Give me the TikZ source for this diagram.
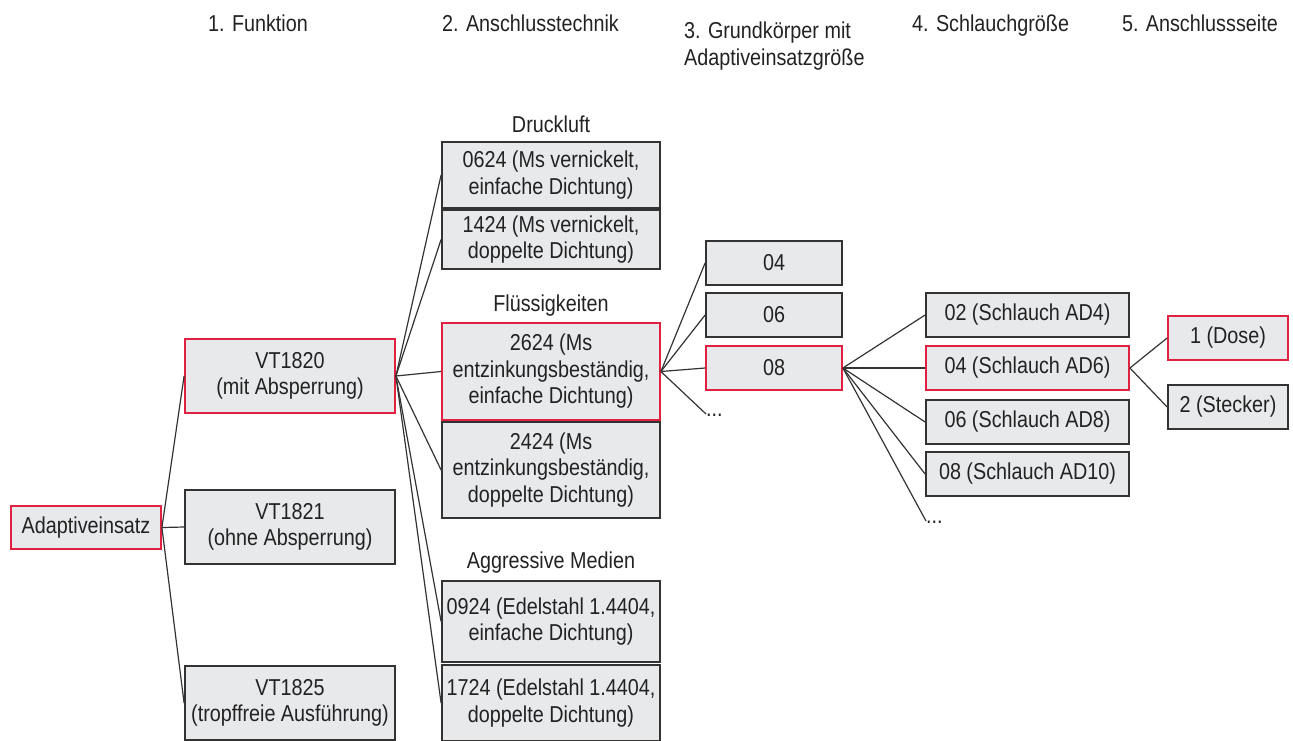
\documentclass[tikz,border=0pt]{standalone}
\usepackage{fontspec}
\setmainfont{Liberation Sans}[FakeStretch=0.86]
\definecolor{boxfill}{HTML}{E8E9EB}
\definecolor{boxline}{HTML}{333333}
\definecolor{hired}{HTML}{E0213F}
\definecolor{txt}{HTML}{222222}
\begin{document}
\begin{tikzpicture}[x=1pt,y=-1pt,
  every node/.style={font=\fontsize{23}{26.5}\selectfont, text=txt, align=center, inner sep=0pt},
  opt/.style={draw=boxline, fill=boxfill, line width=1.8pt, minimum width=#1},
  sel/.style={opt=#1, draw=hired},
  conn/.style={draw=boxline, line width=1.2pt},
  lbl/.style={}]
\useasboundingbox (0,0) rectangle (1293,740);
% headers
\node[lbl, anchor=base west] (h1) at (208,31) {1. Funktion};
\node[lbl, anchor=base west] (h2) at (442,31) {2. Anschlusstechnik};
\node[lbl, anchor=north west, align=left] (h3) at (684,22) {3. Grundkörper mit\\Adaptiveinsatzgröße};
\node[lbl, anchor=base west] (h4) at (912,31) {4. Schlauchgröße};
\node[lbl, anchor=base east] (h5) at (1278,31) {5. Anschlussseite};
% level 0
\node[sel=150, minimum height=43] (adapt) at (86,527.5) {Adaptiveinsatz};
% level 1
\node[sel=210, minimum height=74] (vt1820) at (290,376) {VT1820\\(mit Absperrung)};
\node[opt=210, minimum height=74] (vt1821) at (290,527) {VT1821\\(ohne Absperrung)};
\node[opt=210, minimum height=74] (vt1825) at (290,703) {VT1825\\(tropffreie Ausführung)};
% level 2
\node[lbl] (ldruck) at (551,124) {Druckluft};
\node[opt=218, minimum height=66] (d0624) at (551,175) {0624 (Ms vernickelt,\\einfache Dichtung)};
\node[opt=218, minimum height=59] (d1424) at (551,239.5) {1424 (Ms vernickelt,\\doppelte Dichtung)};
\node[lbl] (lfluess) at (551,306) {Flüssigkeiten};
\node[sel=218, minimum height=97] (f2624) at (551,371.5) {2624 (Ms\\entzinkungsbeständig,\\einfache Dichtung)};
\node[opt=218, minimum height=96] (f2424) at (551,470) {2424 (Ms\\entzinkungsbeständig,\\doppelte Dichtung)};
\node[lbl] (laggr) at (551,563) {Aggressive Medien};
\node[opt=218, minimum height=81] (a0924) at (551,621.5) {0924 (Edelstahl 1.4404,\\einfache Dichtung)};
\node[opt=218, minimum height=76] (a1724) at (551,703) {1724 (Edelstahl 1.4404,\\doppelte Dichtung)};
% level 3
\node[opt=136, minimum height=44] (g04) at (774,263) {04};
\node[opt=136, minimum height=44] (g06) at (774,315) {06};
\node[sel=136, minimum height=44] (g08) at (774,368) {08};
\coordinate (gmore) at (706,414);
\node[lbl, anchor=north west] (gdots) at (706,414) {...};
% level 4
\node[opt=203, minimum height=44] (s02) at (1027.5,315) {02 (Schlauch AD4)};
\node[sel=203, minimum height=44] (s04) at (1027.5,368) {04 (Schlauch AD6)};
\node[opt=203, minimum height=44] (s06) at (1027.5,422) {06 (Schlauch AD8)};
\node[opt=203, minimum height=44] (s08) at (1027.5,474) {08 (Schlauch AD10)};
\coordinate (smore) at (926,521);
\node[lbl, anchor=north west] (sdots) at (926,521) {...};
% level 5
\node[sel=120, minimum height=44] (dose) at (1228,338) {1 (Dose)};
\node[opt=120, minimum height=44] (stecker) at (1228,407) {2 (Stecker)};
% connectors
\foreach \t in {vt1820,vt1821,vt1825} \draw[conn] (adapt.east) -- (\t.west);
\foreach \t in {d0624,d1424,f2624,f2424,a0924,a1724} \draw[conn] (vt1820.east) -- (\t.west);
\foreach \t in {g04,g06,g08} \draw[conn] (f2624.east) -- (\t.west);
\draw[conn] (f2624.east) -- (gmore);
\foreach \t in {s02,s04,s06,s08} \draw[conn] (g08.east) -- (\t.west);
\draw[conn] (g08.east) -- (smore);
\foreach \t in {dose,stecker} \draw[conn] (s04.east) -- (\t.west);
\end{tikzpicture}
\end{document}
